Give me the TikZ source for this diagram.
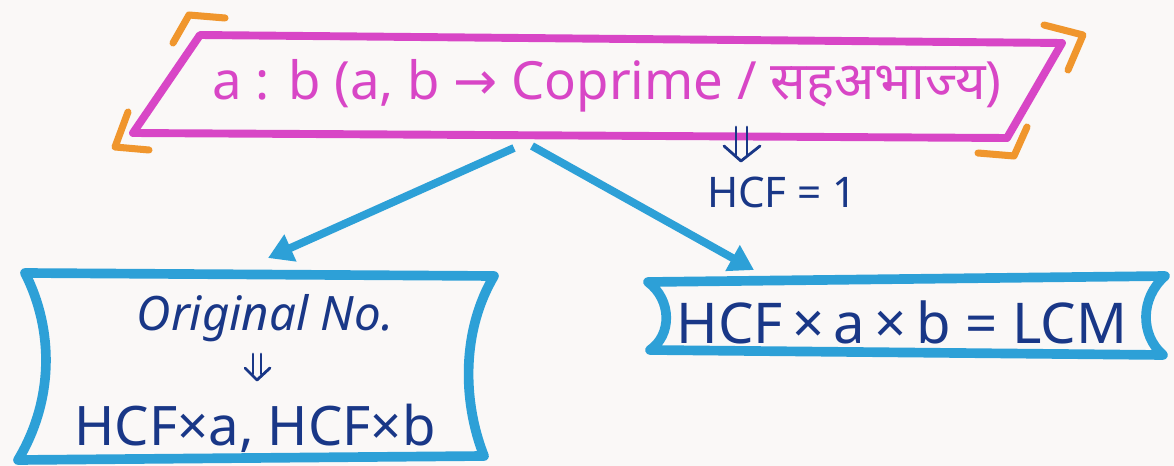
\documentclass[tikz,border=0pt]{standalone}
\usepackage{fontspec}
\setmainfont{Noto Sans}
\newfontfamily\deva[Script=Devanagari]{Noto Sans}
\newfontfamily\dejavu{DejaVu Sans}
\usetikzlibrary{arrows.meta}
\definecolor{paper}{RGB}{250,248,247}
\definecolor{pinkc}{RGB}{216,70,198}
\definecolor{orangec}{RGB}{240,150,45}
\definecolor{bluec}{RGB}{45,160,215}
\definecolor{inkc}{RGB}{25,55,135}
\tikzset{
  pinkline/.style={draw=pinkc,line width=4.5pt,line join=round},
  cornerline/.style={draw=orangec,line width=4pt,line cap=round,line join=round},
  boxline/.style={draw=bluec,line width=5.5pt,line join=round,line cap=round},
  arr/.style={draw=bluec,line width=4.5pt,-{Triangle[length=14pt,width=16pt]}},
  inkstroke/.style={draw=inkc,line width=1.6pt,line cap=round,line join=round},
  pinktext/.style={text=pinkc,font=\fontsize{30}{34}\selectfont},
  inktext/.style={text=inkc,font=\fontsize{31}{36}\selectfont},
}
\begin{document}
\begin{tikzpicture}[x=0.02cm,y=-0.02cm]
\fill[paper] (0,0) rectangle (1174,466);
\useasboundingbox (0,0) rectangle (1174,466);
% pink parallelogram
\draw[pinkline] (200,35) -- (1062,43) -- (1007,138) -- (133,133) -- cycle;
% orange corners
\draw[cornerline] (225,18) -- (189,15) -- (173,43);
\draw[cornerline] (1044,25) -- (1083,35) -- (1068,70);
\draw[cornerline] (128,112) -- (115,147) -- (149,150);
\draw[cornerline] (1027,127) -- (1014,156) -- (978,153);
\node[pinktext] (top) at (607,86) {a : b (a, b {\dejavu→} Coprime / {\deva सहअभाज्य})};
% HCF = 1 with hand-drawn double arrow
\node[text=inkc,font=\fontsize{24}{28}\selectfont] (hcf) at (782,192) {HCF = 1};
\coordinate (d1) at (736,127);
\coordinate (d2) at (747,127);
\draw[inkstroke] (d1) -- ++(0,28) (d2) -- ++(0,28);
\draw[inkstroke] (724,146) -- (741,161) -- (760,146);
% left box
\draw[boxline] (25,273) -- (494,276)
  .. controls (462,330) and (462,400) .. (484,456)
  -- (18,460)
  .. controls (54,400) and (54,330) .. cycle;
\node[inktext,font=\fontsize{27}{30}\selectfont\itshape] (orig) at (265,318) {Original No.};
\draw[inkstroke] (253,354) -- ++(0,20) (261,354) -- ++(0,20);
\draw[inkstroke] (245,368) -- (257,380) -- (270,368);
\node[inktext] (hcfab) at (255,428) {HCF×a, HCF×b};
% right box
\draw[boxline] (648,282) -- (1165,276)
  .. controls (1140,298) and (1140,335) .. (1163,355)
  -- (650,350)
  .. controls (672,335) and (672,300) .. cycle;
\node[inktext,font=\fontsize{32}{36}\selectfont] (lcm) at (902,322) {HCF\,×\,a\,×\,b = LCM};
% arrows
\coordinate (s1) at (514,148);
\coordinate (s2) at (532,146);
\coordinate (e1) at (268,258);
\coordinate (e2) at (754,270);
\draw[arr] (s1) -- (e1);
\draw[arr] (s2) -- (e2);
\end{tikzpicture}
\end{document}
